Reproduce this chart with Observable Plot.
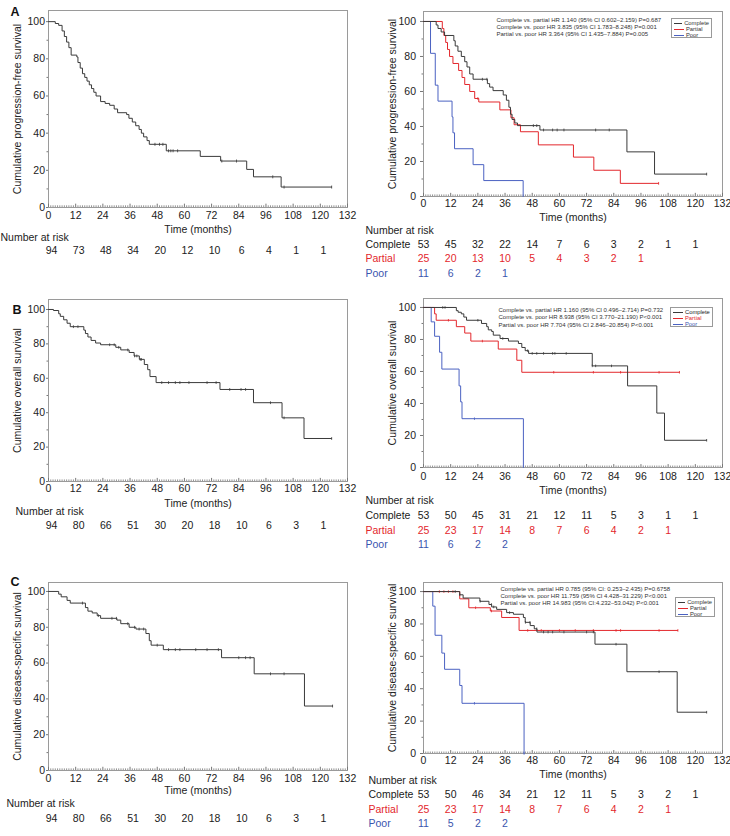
<!DOCTYPE html>
<html><head><meta charset="utf-8">
<script src="https://cdn.jsdelivr.net/npm/d3@7"></script>
<script src="https://cdn.jsdelivr.net/npm/@observablehq/plot@0.6"></script>
<style>
body{margin:0;background:#fff;font-family:Arial,"Liberation Sans",sans-serif}
#root{position:relative;width:730px;height:836px;overflow:hidden}
.p{position:absolute}
.lg{position:absolute;border:1px solid #9a9a9a;background:#fff;box-sizing:border-box;font-size:5.8px;line-height:6px;padding:1px 2px}
.lg div{display:flex;align-items:center;white-space:nowrap}
.lg span.l{display:inline-block;width:10px;height:0;border-top:1px solid;margin-right:2px}
</style>
</head><body><div id="root"></div>
<script>
// ---------- shared ----------
const months = d3.range(0, 133, 12);          // tick labels 0..132
const riskMonths = d3.range(0, 121, 12);      // at-risk columns 0..120
const groups = ["Complete", "Partial", "Poor"];
const colors = {all: "#3a3a3a", Complete: "#3a3a3a", Partial: "#e3272c", Poor: "#4b62c2"};
const textColors = {Complete: "#1a1a1a", Partial: "#e3272c", Poor: "#3a55ae"};

// ---------- A: progression-free survival ----------
const A_allT = [0,3,4.5,6,7,8,9,10,12.5,13,14,15,16,17,18,19,20,21,23,25,27,29,30.5,34.5,35.5,37,38.5,40,41,42,43.5,44.5,52,67,76,87.5,90.5,102.7,125];
const A_allS = [100,99,98,95,92,89,86,82,81,78,75,72,70,68,66,64,62,60,57,56,55,53,51,50,48,46,44,42,40,38,36,34,30.5,27.5,25,20.5,16.5,11,11];
const A_allCens = [47,49,50.5,53,54,55,57,76.5,83,99,104,125];
const A_compT = [0,5.6,6.4,7.8,9.3,13.4,14,15.2,16.7,18.2,19.2,20.4,21.9,28.2,29.2,30.7,35.2,36.6,37.7,38.4,39.1,40.3,41.5,51.4,89.8,102,125];
const A_compS = [100,98,96,94,92,89,86,83,80,77,74,70,67,64.5,62.5,60.5,58,55,51,47,44,42,40.5,38,25.5,12.8,12.8];
const A_compCens = [26,28,48.5,50,53,57,59,62,76,82,125];
const A_partT = [0,8.3,9,9.8,10.6,11.5,13,15.5,17,18.2,20.4,22.6,24.4,33.7,38.6,40,42.8,50.7,66.2,75.2,86.9,103.8];
const A_partS = [100,96,92,88,84,80,76,72,68,64,60,56,54,49.5,45,41,37,29.5,22.5,15,7.5,7.5];
const A_partCens = [24,103.8];
const A_poorT = [0,3.1,5.2,6.4,12.6,13,13.7,21.9,26.6,44];
const A_poorS = [100,81.8,63.6,54.5,45.5,36.4,27.3,18.2,9.1,0];
const A_poorCens = [];
const A_riskAll = [94,73,48,34,20,12,10,6,4,1,1];
const A_riskComplete = [53,45,32,22,14,7,6,3,2,1,1];
const A_riskPartial = [25,20,13,10,5,4,3,2,1];
const A_riskPoor = [11,6,2,1];
const A_stats = [
  "Complete vs. partial HR 1.140 (95% CI 0.602–2.159) P=0.687",
  "Complete vs. poor HR 3.835 (95% CI 1.783–8.248) P=0.001",
  "Partial vs. poor HR 3.364 (95% CI 1.435–7.884) P=0.005"];

// ---------- B: overall survival ----------
const B_allT = [0,2.2,4.5,5.2,6.7,8.2,9.6,15.6,16.3,17.4,18.8,20.8,23,29.7,31.9,35.6,37.8,40.1,42.3,43.8,44.8,47.5,75.7,90.5,103.1,112.8,125];
const B_allS = [100,99.4,97.5,96,94,92,90,88,86,84,82,80.5,79.5,78,76.5,75,73,71,68,65,61,57.5,53.5,45.8,37,25,25];
const B_allCens = [11,13,27,29,31,35,38,39,40.5,41,50,53,56,58,62,70,74,80,85,87,98,104,125];
const B_compT = [0,14.5,15.3,16.7,17.8,19,25.6,27.9,28.6,30.1,30.8,33.8,37.5,41.9,43.4,44.9,46.4,74.5,90.1,103,106.4,125];
const B_compS = [100,98,97,96,94,92,90,88,86,85,82.7,80.6,79,77.5,75,73,71.3,63.5,51,34,17,17];
const B_compCens = [8.5,9.5,24,35,46,48,50,53,57,58,63,74.5,76,83,125];
const B_partT = [0,4.9,5.6,14.5,18.2,20.9,33,41.2,43.4,113];
const B_partS = [100,96,92,88,84,79,74,67,59.5,59.5];
const B_partCens = [11,26,57.5,75,87,104,113];
const B_poorT = [0,3.4,4.9,7.1,8.1,15.7,16.4,17,44.1];
const B_poorS = [100,91,82,72,61.5,51,41,30.5,0];
const B_poorCens = [22.5];
const B_riskAll = [94,80,66,51,30,20,18,10,6,3,1];
const B_riskComplete = [53,50,45,31,21,12,11,5,3,1,1];
const B_riskPartial = [25,23,17,14,8,7,6,4,2,1];
const B_riskPoor = [11,6,2,2];
const B_stats = [
  "Complete vs. partial HR 1.160 (95% CI 0.496–2.714) P=0.732",
  "Complete vs. poor HR 8.938 (95% CI 3.770–21.190) P<0.001",
  "Partial vs. poor HR 7.704 (95% CI 2.846–20.854) P<0.001"];

// ---------- C: disease-specific survival ----------
const C_allT = [0,4.5,5.6,8.2,9.6,16.3,17.4,19.3,21.5,23,30.2,31.9,35.6,38.6,43,44.5,45.3,50.7,76.4,90.8,113,125.4];
const C_allS = [100,98.5,97,95,93.5,91,89,88,86.5,85,84,82,80,79,76.5,72.5,70,67.5,63,54,36,36];
const C_allCens = [15,22,28,30,35,38,40,42,48,53,56,58,65,70,75,84,87,89,98,104,125.4];
const C_compT = [0,16,17.5,24.9,28.9,30.1,32.3,36.7,39.7,44.1,44.9,47.1,48.9,50.1,75.7,89.8,112,125];
const C_compS = [100,98,96,94,92,90.5,89,87,86,84,81,79,77,75,67.5,50.5,25.5,25.5];
const C_compCens = [14,16,25,30,31,38,45,47,50,53,55,57,62,72,75,85,104,125];
const C_partT = [0,16,20,29.5,34.5,42.2,112.3];
const C_partS = [100,95.5,90,88,84,76,76];
const C_partCens = [7,9,11,13,23,30,46,52,60,67,75,85,87,104,112.3];
const C_poorT = [0,4.1,5.1,8.1,9.3,16,17,44.4];
const C_poorS = [100,91,73,62,52,42,31,0];
const C_poorCens = [22.5,44.4];
const C_riskAll = [94,80,66,51,30,20,18,10,6,3,1];
const C_riskComplete = [53,50,46,34,21,12,11,5,3,2,1];
const C_riskPartial = [25,23,17,14,8,7,6,4,2,1];
const C_riskPoor = [11,5,2,2];
const C_stats = [
  "Complete vs. partial HR 0.785 (95% CI: 0.253–2.435) P=0.6758",
  "Complete vs. poor HR 11.759 (95% CI 4.428–31.229) P<0.001",
  "Partial vs. poor HR 14.983 (95% CI:4.232–53.042) P<0.001"];

// ---------- helpers ----------
function stepData(T, S) { return T.map((t, i) => ({t, s: S[i]})); }
function survAt(T, S, t) { let v = S[0]; for (let i = 0; i < T.length; i++) if (T[i] <= t) v = S[i]; return v; }
function censData(T, S, C) { return C.map(t => ({t, s: survAt(T, S, t)})); }
function curve(T, S, C, color) { return {data: stepData(T, S), cens: censData(T, S, C), color}; }

function panel(o) {
  const marks = [
    Plot.frame({stroke: "#9a9a9a"}),
    Plot.ruleX(d3.range(0, 133, 1).filter(d => d % 12), {y1: 0, y2: 0.9, stroke: "#777", strokeWidth: 0.8}),
    Plot.ruleX(months, {y1: 0, y2: 1.8, stroke: "#777"}),
    Plot.axisX({ticks: months, tickSize: 0, tickPadding: o.xPad, label: null, tickFormat: d => d, fontSize: 10.5}),
    Plot.axisY({ticks: d3.range(10, 100, 20), tickSize: 1.5, tickFormat: () => "", label: null, stroke: "#777"}),
    Plot.axisY({ticks: d3.range(0, 101, 20), tickSize: o.yTick, tickPadding: o.yPad, label: null, tickFormat: d => d, fontSize: 10.5, stroke: "#777"}),
    Plot.text([o.ylabel], {frameAnchor: "left", textAnchor: "middle", rotate: -90, dx: o.ylabDx, fontSize: 10.5, fill: "#222"}),
    Plot.text(["Time (months)"], {frameAnchor: "bottom", dy: o.xlabDy, fontSize: 10.5, fill: "#222"}),
    Plot.text(["Number at risk"], {frameAnchor: "bottom-left", dx: o.headDx, dy: o.headDy, textAnchor: "start", fontSize: 10.5, fill: "#222"})
  ];
  for (const c of o.curves) {
    marks.push(Plot.line(c.data, {x: "t", y: "s", curve: "step-after", stroke: c.color, strokeWidth: 1}));
    marks.push(Plot.link(c.cens, {x1: "t", x2: "t", y1: d => d.s - 0.8, y2: d => d.s + 0.8, stroke: c.color, strokeWidth: 0.8}));
  }
  for (const r of o.rows) {
    if (r.label) marks.push(Plot.text([r.label], {frameAnchor: "bottom-left", dx: o.rowDx, dy: r.dy, textAnchor: "start", fontSize: 10.5, fill: r.color}));
    marks.push(Plot.text(r.counts, {x: (d, i) => riskMonths[i], text: d => d, frameAnchor: "bottom", dx: o.numDx || 0, dy: r.dy, fontSize: 10.5, fill: r.color}));
  }
  if (o.stats) marks.push(Plot.text([o.stats.join("\n")], {frameAnchor: "top-left", dx: o.statDx, dy: o.statDy, textAnchor: "start", lineAnchor: "top", fontSize: 6, lineHeight: 1.2, fill: "#333"}));
  if (o.letter) marks.push(Plot.text([o.letter], {frameAnchor: "top-left", dx: o.letDx, dy: o.letDy, fontSize: 12.5, fontWeight: "bold", fill: "#111"}));
  const svg = Plot.plot({
    width: 365, height: o.height,
    marginTop: o.mt, marginBottom: o.mb, marginLeft: o.ml, marginRight: o.mr,
    x: {domain: [0, 132]}, y: {domain: [0, o.ymax]},
    style: {fontFamily: "Arial, 'Liberation Sans', sans-serif", fontSize: "10.5px", color: "#222", background: "transparent", overflow: "visible"},
    marks
  });
  const div = document.createElement("div");
  div.className = "p"; div.style.left = o.left + "px"; div.style.top = o.top + "px";
  div.appendChild(svg);
  document.getElementById("root").appendChild(div);
  if (o.legend) {
    const L = o.legend, lg = document.createElement("div");
    lg.className = "lg";
    Object.assign(lg.style, {left: L.left + "px", top: L.top + "px", width: L.w + "px", height: L.h + "px"});
    for (const g of groups) {
      const row = document.createElement("div");
      row.innerHTML = `<span class="l" style="border-color:${colors[g]}"></span><span style="color:${L.colored ? textColors[g] : "#333"}">${g}</span>`;
      lg.appendChild(row);
    }
    document.getElementById("root").appendChild(lg);
  }
}

function groupRows(rc, rp, rpo, dys) {
  return [
    {label: "Complete", counts: rc, color: textColors.Complete, dy: dys[0]},
    {label: "Partial", counts: rp, color: textColors.Partial, dy: dys[1]},
    {label: "Poor", counts: rpo, color: textColors.Poor, dy: dys[2]}];
}

// ---------- A ----------
panel({top: 0, left: 0, height: 262, mt: 10, mb: 55, ml: 48, mr: 18, ymax: 106,
  xPad: 4, yTick: 2, yPad: 1.5, ylabDx: -30.5, xlabDy: 25, headDx: -48, headDy: 33, numDx: 3,
  ylabel: "Cumulative progression-free survival", letter: "A", letDx: -38, letDy: -3,
  curves: [curve(A_allT, A_allS, A_allCens, colors.all)],
  rows: [{label: null, counts: A_riskAll, color: "#1a1a1a", dy: 46}]});
panel({top: 0, left: 365, height: 285, mt: 11, mb: 89, ml: 58, mr: 8, ymax: 105.7,
  xPad: 3, yTick: 3, yPad: 4.5, ylabDx: -31, xlabDy: 24, headDx: -58, headDy: 37, rowDx: -58,
  ylabel: "Cumulative progression-free survival",
  curves: [curve(A_poorT, A_poorS, A_poorCens, colors.Poor), curve(A_partT, A_partS, A_partCens, colors.Partial), curve(A_compT, A_compS, A_compCens, colors.Complete)],
  rows: groupRows(A_riskComplete, A_riskPartial, A_riskPoor, [51, 65, 80]),
  stats: A_stats, statDx: 73, statDy: 5,
  legend: {left: 671, top: 18, w: 41, h: 20, colored: false}});

// ---------- B ----------
panel({top: 270, left: 0, height: 275, mt: 29, mb: 64, ml: 48, mr: 18, ymax: 105.8,
  xPad: 3.5, yTick: 2, yPad: 1.5, ylabDx: -30.5, xlabDy: 25, headDx: -33, headDy: 33, numDx: 3,
  ylabel: "Cumulative overall survival", letter: "B", letDx: -36, letDy: 6,
  curves: [curve(B_allT, B_allS, B_allCens, colors.all)],
  rows: [{label: null, counts: B_riskAll, color: "#1a1a1a", dy: 47}]});
panel({top: 270, left: 365, height: 285, mt: 28, mb: 88, ml: 58, mr: 8, ymax: 105.6,
  xPad: 5, yTick: 3, yPad: 4.5, ylabDx: -31, xlabDy: 26, headDx: -58, headDy: 36, rowDx: -58,
  ylabel: "Cumulative overall survival",
  curves: [curve(B_poorT, B_poorS, B_poorCens, colors.Poor), curve(B_partT, B_partS, B_partCens, colors.Partial), curve(B_compT, B_compS, B_compCens, colors.Complete)],
  rows: groupRows(B_riskComplete, B_riskPartial, B_riskPoor, [51, 66, 80]),
  stats: B_stats, statDx: 75, statDy: 8.5,
  legend: {left: 670, top: 307, w: 43, h: 20, colored: true}});

// ---------- C ----------
panel({top: 545, left: 0, height: 291, mt: 37, mb: 66, ml: 48, mr: 18, ymax: 105,
  xPad: 4.5, yTick: 2, yPad: 1.5, ylabDx: -30.5, xlabDy: 23, headDx: -42, headDy: 36, numDx: 3,
  ylabel: "Cumulative disease-specific survival", letter: "C", letDx: -38, letDy: -5,
  curves: [curve(C_allT, C_allS, C_allCens, colors.all)],
  rows: [{label: null, counts: C_riskAll, color: "#1a1a1a", dy: 51}]});
panel({top: 545, left: 365, height: 291, mt: 37, mb: 83, ml: 58, mr: 8, ymax: 105.6,
  xPad: 3.5, yTick: 3, yPad: 4.5, ylabDx: -31, xlabDy: 24, headDx: -55, headDy: 30, rowDx: -55,
  ylabel: "Cumulative disease-specific survival",
  curves: [curve(C_poorT, C_poorS, C_poorCens, colors.Poor), curve(C_partT, C_partS, C_partCens, colors.Partial), curve(C_compT, C_compS, C_compCens, colors.Complete)],
  rows: groupRows(C_riskComplete, C_riskPartial, C_riskPoor, [44, 59, 73]),
  stats: C_stats, statDx: 77, statDy: 3,
  legend: {left: 675, top: 597, w: 40, h: 20, colored: false}});
</script></body></html>
